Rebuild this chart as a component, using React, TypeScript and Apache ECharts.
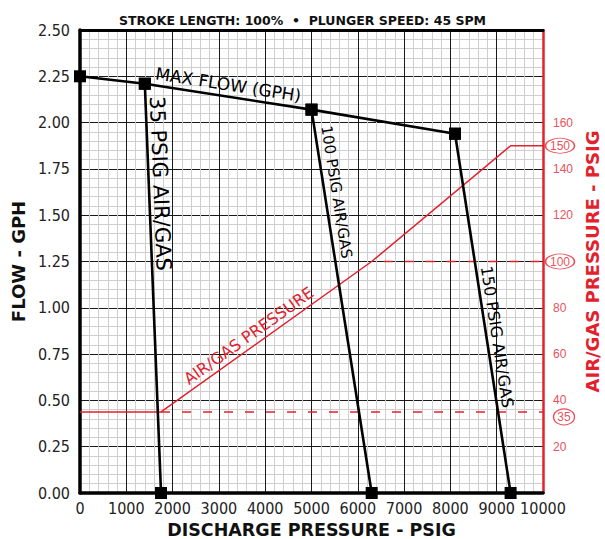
import React, { useEffect, useRef } from 'react';
import * as echarts from 'echarts';

// Max-flow envelope: discharge pressure (PSIG) vs flow (GPH)
const maxFlowPsig = [0, 1400, 5000, 8100];
const maxFlowGph = [2.25, 2.21, 2.07, 1.94];

// Discharge pressure where each air/gas supply pressure stalls (flow = 0)
const stallPsig = [1750, 6300, 9300];
const airGasLevels = [35, 100, 150];
const airGasNames = ['35 PSIG AIR/GAS', '100 PSIG AIR/GAS', '150 PSIG AIR/GAS'];

// Required air/gas pressure curve (right axis)
const airCurvePsig = [0, 1750, 6300, 9300, 10000];
const airCurvePressure = [35, 35, 100, 150, 150];

// Right axis tick labels that are printed
const rightTickLabels = [20, 40, 60, 80, 120, 140, 160];

const RED = '#e3212d';
const RED_LABEL = '#e8525b';
const FONT = "'DejaVu Sans', sans-serif";
const FONT_NARROW = "'Liberation Sans Narrow', 'DejaVu Sans Condensed', sans-serif";
const FONT_SMALL = "'Liberation Sans', 'Roboto', sans-serif";

const flowPoints = maxFlowPsig.map((x, i) => [x, maxFlowGph[i]]);
const airCurve = airCurvePsig.map((x, i) => [x, airCurvePressure[i]]);

const majorGrid = { show: true, lineStyle: { color: '#1a1a1a', width: 1, type: 'solid' } };
const minorGrid = { show: true, lineStyle: { color: '#cfcfcf', width: 1, type: 'solid' } };

function buildOption(): any {
  const psigLines = stallPsig.map((x, i) => ({
    type: 'line',
    data: [flowPoints[i + 1], [x, 0]],
    symbol: 'rect',
    symbolSize: 12,
    showAllSymbol: true,
    clip: false,
    lineStyle: { color: '#000', width: 2.6 },
    itemStyle: { color: '#000' },
    z: 5,
  }));

  return {
    animation: false,
    backgroundColor: '#fff',
    title: {
      text: 'STROKE LENGTH: 100%  \u2022  PLUNGER SPEED: 45 SPM',
      left: 'center',
      top: 9,
      textStyle: { fontFamily: FONT, fontWeight: 'bold', fontSize: 12.5, color: '#111' },
    },
    grid: { left: 80, top: 30, right: 62, bottom: 46, outerBoundsMode: 'none', containLabel: false },
    xAxis: [
      {
        type: 'value',
        min: 0,
        max: 10000,
        interval: 1000,
        position: 'bottom',
        name: 'DISCHARGE PRESSURE - PSIG',
        nameLocation: 'middle',
        nameGap: 25,
        nameTextStyle: { fontFamily: FONT, fontWeight: 'bold', fontSize: 17.5, color: '#111' },
        axisLine: { show: true, onZero: false, lineStyle: { color: '#000', width: 3.5 } },
        axisTick: { show: false },
        axisLabel: {
          margin: 7,
          fontFamily: FONT_NARROW,
          fontSize: 16,
          color: '#222',
          formatter: (v: number) => String(v),
        },
        splitLine: majorGrid,
        minorTick: { show: false, splitNumber: 5 },
        minorSplitLine: minorGrid,
      },
      {
        type: 'value',
        min: 0,
        max: 10000,
        position: 'top',
        axisLine: { show: true, onZero: false, lineStyle: { color: '#000', width: 3 } },
        axisTick: { show: false },
        axisLabel: { show: false },
        splitLine: { show: false },
      },
    ],
    yAxis: [
      {
        type: 'value',
        min: 0,
        max: 2.5,
        interval: 0.25,
        position: 'left',
        name: 'FLOW - GPH',
        nameLocation: 'middle',
        nameRotate: 90,
        nameGap: 50,
        nameTextStyle: { fontFamily: FONT, fontWeight: 'bold', fontSize: 18, color: '#111' },
        axisLine: { show: true, onZero: false, lineStyle: { color: '#000', width: 3.5 } },
        axisTick: { show: false },
        axisLabel: {
          margin: 10,
          fontFamily: FONT_NARROW,
          fontSize: 16,
          color: '#222',
          formatter: (v: number) => v.toFixed(2),
        },
        splitLine: majorGrid,
        minorTick: { show: false, splitNumber: 5 },
        minorSplitLine: minorGrid,
      },
      {
        type: 'value',
        min: 0,
        max: 200,
        interval: 20,
        position: 'right',
        name: 'AIR/GAS PRESSURE - PSIG',
        nameLocation: 'middle',
        nameRotate: 90,
        nameGap: 40,
        nameTextStyle: { fontFamily: FONT, fontWeight: 'bold', fontSize: 18, color: RED },
        axisLine: { show: true, onZero: false, lineStyle: { color: RED, width: 2.5 } },
        axisTick: { show: false },
        axisLabel: {
          margin: 10,
          fontFamily: FONT_SMALL,
          fontSize: 12,
          color: RED_LABEL,
          formatter: (v: number) => (rightTickLabels.includes(v) ? String(v) : ''),
        },
        splitLine: { show: false },
      },
    ],
    series: [
      {
        type: 'line',
        data: flowPoints,
        symbol: 'rect',
        symbolSize: 12,
        showAllSymbol: true,
        clip: false,
        lineStyle: { color: '#000', width: 2.6 },
        itemStyle: { color: '#000' },
        z: 6,
      },
      ...psigLines,
      {
        type: 'line',
        yAxisIndex: 1,
        data: airCurve,
        symbol: 'none',
        lineStyle: { color: RED, width: 1.5 },
        z: 4,
      },
      {
        type: 'line',
        yAxisIndex: 1,
        data: [airCurve[1], [10000, airGasLevels[0]]],
        symbol: 'none',
        lineStyle: { color: RED, width: 1.5, type: [9, 12] },
        z: 4,
      },
      {
        type: 'line',
        yAxisIndex: 1,
        data: [airCurve[2], [10000, airGasLevels[1]]],
        symbol: 'none',
        lineStyle: { color: RED, width: 1.5, type: [9, 12], dashOffset: 9 },
        z: 4,
      },
      {
        type: 'scatter',
        yAxisIndex: 1,
        clip: false,
        symbol: 'circle',
        data: airGasLevels.map((v) => ({
          value: [10000, v],
          symbolSize: v < 100 ? [21, 16] : [29, 15],
          symbolOffset: v < 100 ? [21, 5] : [17, 0],
        })),
        itemStyle: { color: '#fff', borderColor: RED, borderWidth: 1.2 },
        label: {
          show: true,
          position: 'inside',
          formatter: (p: any) => String(p.value[1]),
          color: RED,
          fontFamily: FONT_SMALL,
          fontSize: 12,
        },
        z: 10,
      },
    ],
  };
}

type LineLabel = {
  seriesIndex: number;
  from: number[];
  to: number[];
  t: number;
  offset: number;
  text: string;
  fontSize: number;
  color: string;
};

function lineLabels(): LineLabel[] {
  return [
    { seriesIndex: 0, from: flowPoints[1], to: flowPoints[2], t: 0.49, offset: 12, text: 'MAX FLOW (GPH)', fontSize: 17, color: '#000' },
    { seriesIndex: 1, from: flowPoints[1], to: [stallPsig[0], 0], t: 0.245, offset: 11.5, text: airGasNames[0], fontSize: 21, color: '#000' },
    { seriesIndex: 2, from: flowPoints[2], to: [stallPsig[1], 0], t: 0.22, offset: 12, text: airGasNames[1], fontSize: 15, color: '#000' },
    { seriesIndex: 3, from: flowPoints[3], to: [stallPsig[2], 0], t: 0.57, offset: 10.5, text: airGasNames[2], fontSize: 16, color: '#000' },
    { seriesIndex: 4, from: airCurve[1], to: airCurve[2], t: 0.447, offset: 11, text: 'AIR/GAS PRESSURE', fontSize: 16, color: RED },
  ];
}

function buildGraphic(chart: echarts.ECharts) {
  return lineLabels().map((l) => {
    const a = chart.convertToPixel({ seriesIndex: l.seriesIndex }, l.from) as number[];
    const b = chart.convertToPixel({ seriesIndex: l.seriesIndex }, l.to) as number[];
    const dx = b[0] - a[0];
    const dy = b[1] - a[1];
    const len = Math.hypot(dx, dy);
    const nx = dy / len;
    const ny = -dx / len;
    return {
      type: 'text',
      x: a[0] + dx * l.t + nx * l.offset,
      y: a[1] + dy * l.t + ny * l.offset,
      rotation: -Math.atan2(dy, dx),
      z: 20,
      style: {
        text: l.text,
        fontFamily: FONT,
        fontSize: l.fontSize,
        fill: l.color,
        align: 'center',
        verticalAlign: 'middle',
      },
    };
  });
}

export default function App() {
  const ref = useRef<HTMLDivElement>(null);
  useEffect(() => {
    if (!ref.current) return;
    const chart = echarts.init(ref.current, null, { renderer: 'svg' });
    chart.setOption(buildOption());
    chart.setOption({ graphic: buildGraphic(chart) });
    return () => chart.dispose();
  }, []);
  return (
    <div
      ref={ref}
      style={{ position: 'absolute', left: 0, top: 0, width: 605, height: 539 }}
    />
  );
}
